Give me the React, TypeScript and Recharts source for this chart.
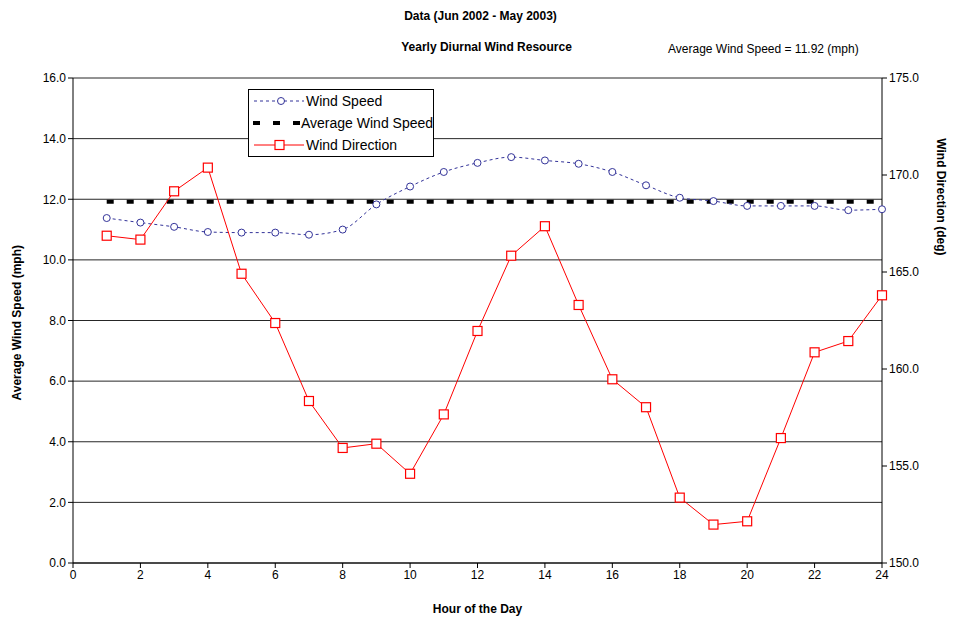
import { LineChart, Line, XAxis, YAxis, CartesianGrid } from 'recharts';

const hours = [1, 2, 3, 4, 5, 6, 7, 8, 9, 10, 11, 12, 13, 14, 15, 16, 17, 18, 19, 20, 21, 22, 23, 24];
const windSpeed = [11.38, 11.23, 11.09, 10.92, 10.9, 10.9, 10.83, 11.0, 11.83, 12.42, 12.9, 13.2, 13.39, 13.28, 13.17, 12.9, 12.46, 12.05, 11.94, 11.78, 11.78, 11.78, 11.64, 11.67];
const windDirection = [166.87, 166.67, 169.16, 170.38, 164.91, 162.37, 158.35, 155.93, 156.15, 154.6, 157.66, 161.96, 165.84, 167.36, 163.3, 159.47, 158.03, 153.37, 151.98, 152.15, 156.44, 160.86, 161.44, 163.8];
const avgSpeed = 11.92;
const xTicks = [0, 2, 4, 6, 8, 10, 12, 14, 16, 18, 20, 22, 24];
const speedTicks = [0, 2, 4, 6, 8, 10, 12, 14, 16];
const dirTicks = [150, 155, 160, 165, 170, 175];

const data = hours.map((h, i) => ({
  hour: h,
  speed: windSpeed[i],
  avg: avgSpeed,
  dir: windDirection[i],
}));

const font = '"Liberation Sans", Arial, sans-serif';

const SquareDot = (props: any) => {
  const { cx, cy } = props;
  if (cx == null || cy == null) return null;
  return <rect x={cx - 4.5} y={cy - 4.5} width={9} height={9} fill="#fff" stroke="#ff0000" strokeWidth={1.2} />;
};

const LegendBox = () => (
  <div
    style={{
      position: 'absolute',
      left: 248,
      top: 89,
      width: 186,
      height: 68,
      border: '1px solid #000',
      background: '#fff',
      boxSizing: 'border-box',
      overflow: 'hidden',
      zIndex: 2,
    }}
  >
    <svg width={184} height={66} style={{ display: 'block' }}>
      <line x1={5} y1={11} x2={55} y2={11} stroke="#333399" strokeDasharray="3 3" />
      <circle cx={32} cy={11} r={3.5} fill="#fff" stroke="#333399" />
      <text x={57} y={16} fontSize={14} fontFamily={font}>Wind Speed</text>
      <line x1={4} y1={33} x2={57} y2={33} stroke="#000" strokeWidth={4} strokeDasharray="7 13" />
      <text x={52} y={38} fontSize={14} fontFamily={font}>Average Wind Speed</text>
      <line x1={5} y1={55} x2={55} y2={55} stroke="#ff0000" />
      <rect x={26} y={50.5} width={9} height={9} fill="#fff" stroke="#ff0000" strokeWidth={1.2} />
      <text x={57} y={60} fontSize={14} fontFamily={font}>Wind Direction</text>
    </svg>
  </div>
);

export default function App() {
  return (
    <div style={{ position: 'absolute', left: 0, top: 0, width: 953, height: 619, background: '#fff', fontFamily: font }}>
      <div style={{ position: 'absolute', left: 0, width: 953, top: 9, textAlign: 'center', fontSize: 12, fontWeight: 'bold', paddingLeft: 4 }}>
        Data (Jun 2002 - May 2003)
      </div>
      <div style={{ position: 'absolute', left: 0, width: 953, top: 40, textAlign: 'center', fontSize: 12, fontWeight: 'bold', paddingLeft: 10 }}>
        Yearly Diurnal Wind Resource
      </div>
      <div style={{ position: 'absolute', left: 668, top: 42, fontSize: 12 }}>Average Wind Speed = 11.92 (mph)</div>
      <LegendBox />
      <LineChart width={953} height={619} data={data} margin={{ top: 78, right: 26, bottom: 26, left: 28 }}>
        <CartesianGrid horizontal vertical={false} stroke="#000" strokeOpacity={0.85} yAxisId="left" />
        <XAxis
          dataKey="hour"
          type="number"
          domain={[0, 24]}
          ticks={xTicks}
          interval={0}
          height={30}
          stroke="#000"
          tick={{ fill: '#000', fontSize: 12, fontFamily: font }}
          tickSize={5}
          label={{ value: 'Hour of the Day', position: 'insideBottom', offset: -20, fill: '#000', fontSize: 12, fontWeight: 'bold', fontFamily: font }}
        />
        <YAxis
          yAxisId="left"
          domain={[0, 16]}
          ticks={speedTicks}
          interval={0}
          width={45}
          stroke="#000"
          tickFormatter={(v: number) => v.toFixed(1)}
          tick={{ fill: '#000', fontSize: 12, fontFamily: font }}
          tickSize={5}
          label={{ value: 'Average Wind Speed (mph)', angle: -90, position: 'insideLeft', offset: -11, dy: 80, fill: '#000', fontSize: 12, fontWeight: 'bold', fontFamily: font }}
        />
        <YAxis
          yAxisId="right"
          orientation="right"
          domain={[150, 175]}
          ticks={dirTicks}
          interval={0}
          width={45}
          stroke="#000"
          tickFormatter={(v: number) => v.toFixed(1)}
          tick={{ fill: '#000', fontSize: 12, fontFamily: font }}
          tickSize={5}
          label={{ value: 'Wind Direction (deg)', angle: 90, position: 'insideRight', offset: -14, dy: -65, fill: '#000', fontSize: 12, fontWeight: 'bold', fontFamily: font }}
        />
        <Line
          yAxisId="left"
          dataKey="avg"
          type="linear"
          stroke="#000"
          strokeWidth={4}
          strokeDasharray="7 13"
          dot={false}
          isAnimationActive={false}
        />
        <Line
          yAxisId="left"
          dataKey="speed"
          type="monotone"
          stroke="#333399"
          strokeWidth={1}
          strokeDasharray="3 3"
          dot={{ r: 3.5, fill: '#fff', stroke: '#333399', strokeWidth: 1, strokeDasharray: '' }}
          isAnimationActive={false}
        />
        <Line
          yAxisId="right"
          dataKey="dir"
          type="linear"
          stroke="#ff0000"
          strokeWidth={1}
          dot={<SquareDot />}
          isAnimationActive={false}
        />
      </LineChart>
    </div>
  );
}
